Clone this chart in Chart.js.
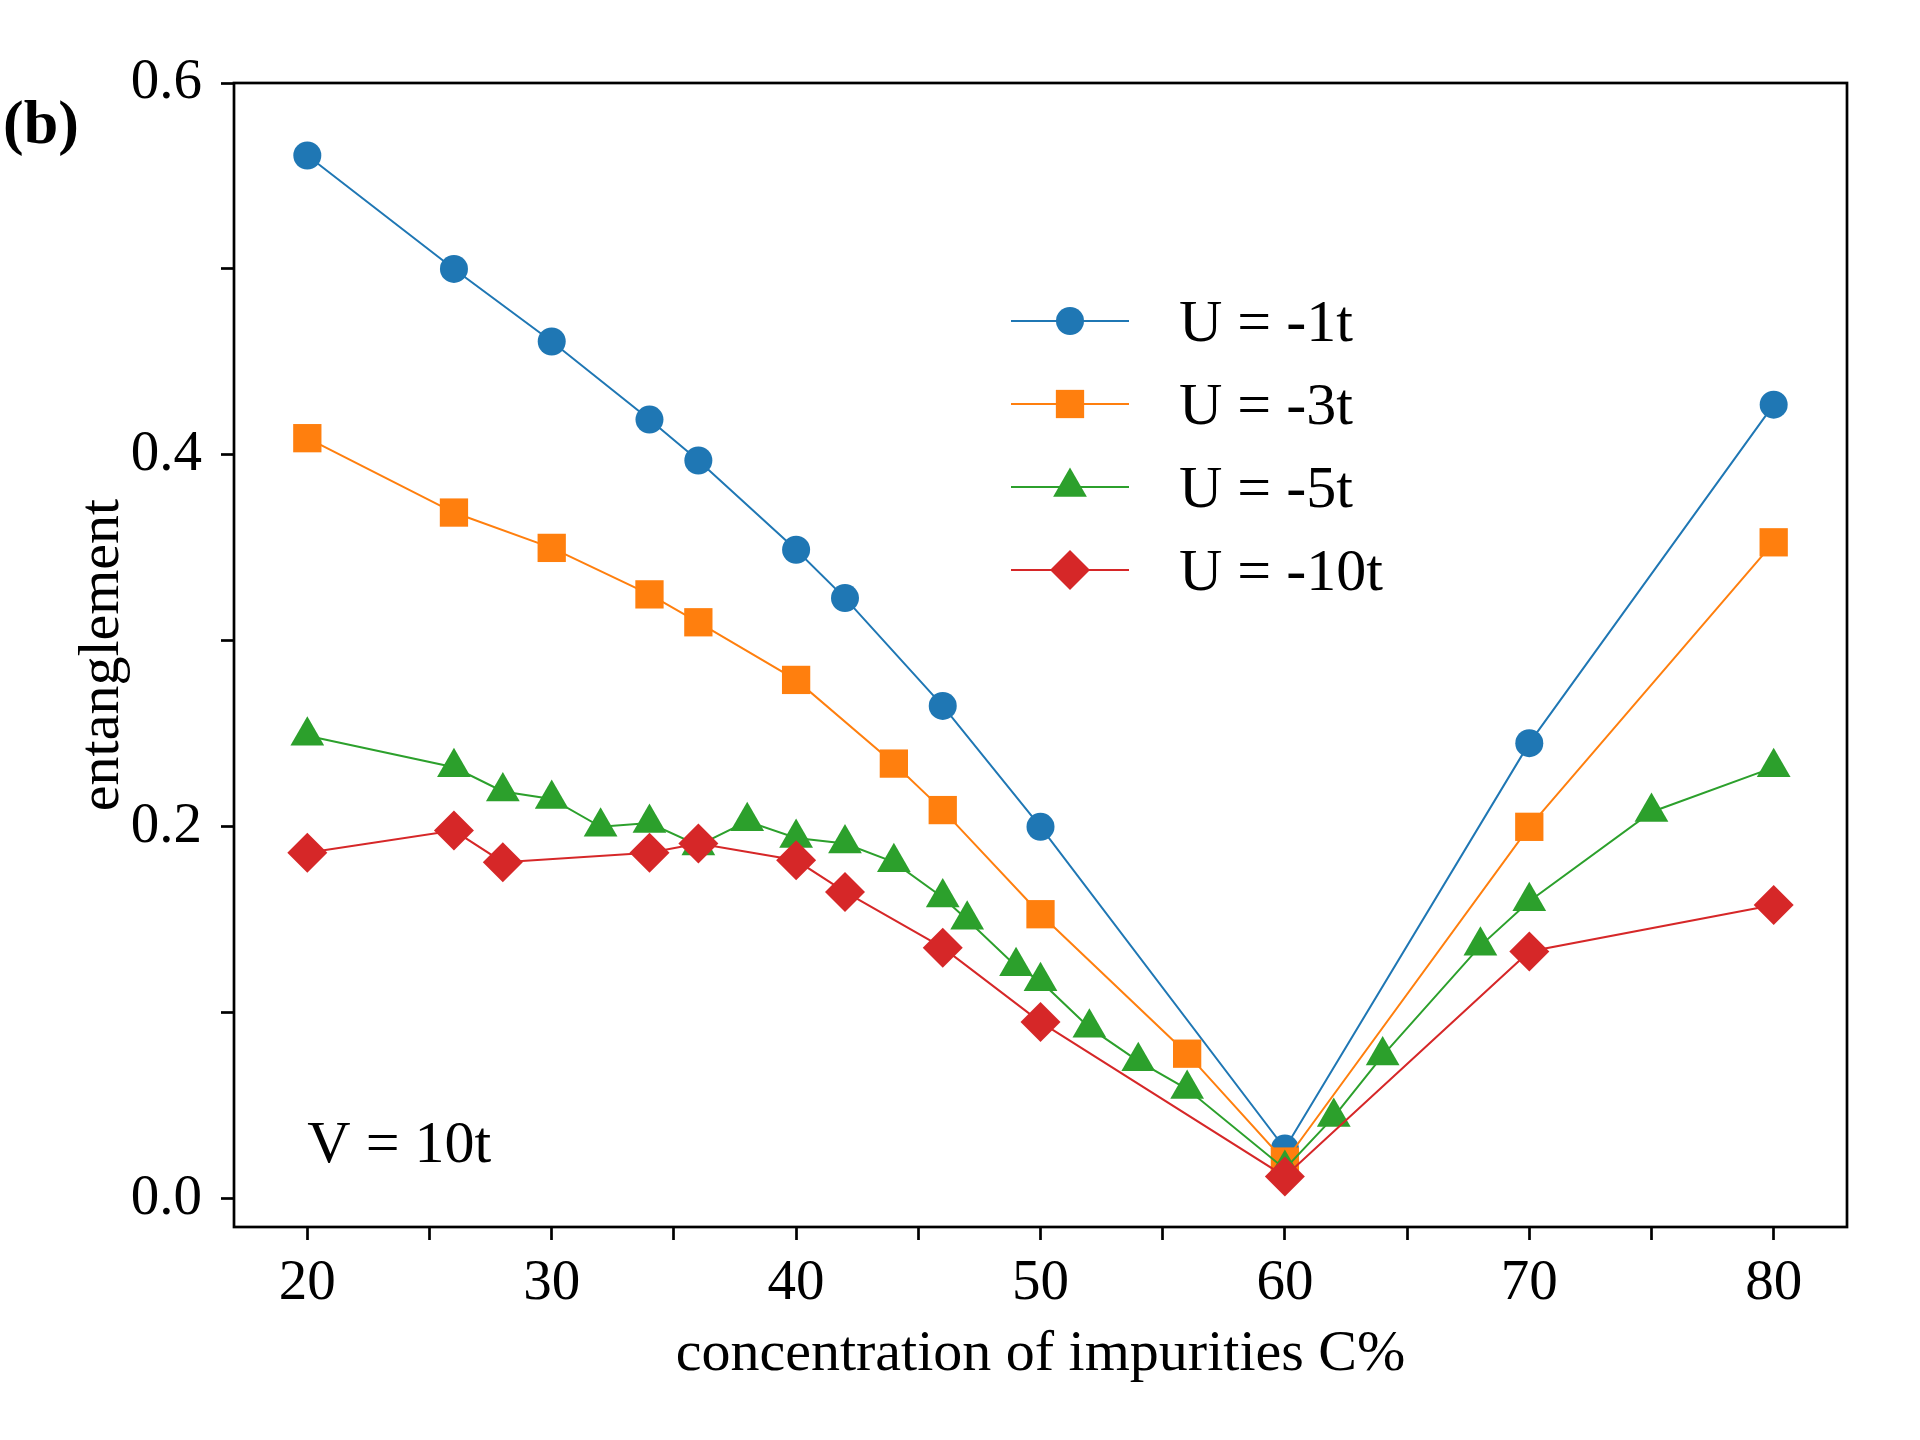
<!DOCTYPE html>
<html>
<head>
<meta charset="utf-8">
<script src="https://cdn.jsdelivr.net/npm/chart.js@4/dist/chart.umd.min.js"></script>
<style>
  html, body { margin: 0; padding: 0; background: #fff; }
  #wrap { width: 1920px; height: 1440px; }
</style>
</head>
<body>
<div id="wrap"><canvas id="chart" width="1920" height="1440"></canvas></div>
<script>
// data
const xU1 = [20, 26, 30, 34, 36, 40, 42, 46, 50, 60, 70, 80];
const yU1 = [0.561, 0.500, 0.461, 0.419, 0.397, 0.349, 0.323, 0.265, 0.200, 0.027, 0.245, 0.427];

const xU3 = [20, 26, 30, 34, 36, 40, 44, 46, 50, 56, 60, 70, 80];
const yU3 = [0.409, 0.369, 0.350, 0.325, 0.310, 0.279, 0.234, 0.209, 0.153, 0.078, 0.020, 0.200, 0.353];

const xU5 = [20, 26, 28, 30, 32, 34, 36, 38, 40, 42, 44, 46, 47, 49, 50, 52, 54, 56, 60, 62, 64, 68, 70, 75, 80];
const yU5 = [0.249, 0.232, 0.219, 0.215, 0.200, 0.202, 0.190, 0.203, 0.194, 0.191, 0.181, 0.162, 0.150, 0.125, 0.117, 0.092, 0.074, 0.059, 0.016, 0.044, 0.077, 0.136, 0.160, 0.208, 0.232];

const xU10 = [20, 26, 28, 34, 36, 40, 42, 46, 50, 60, 70, 80];
const yU10 = [0.186, 0.198, 0.181, 0.186, 0.191, 0.182, 0.165, 0.135, 0.095, 0.012, 0.133, 0.158];

const seriesLabels = ['U = -1t', 'U = -3t', 'U = -5t', 'U = -10t'];
const xTicks = [20, 25, 30, 35, 40, 45, 50, 55, 60, 65, 70, 75, 80];
const xTickLabels = {20: '20', 30: '30', 40: '40', 50: '50', 60: '60', 70: '70', 80: '80'};
const yTicks = [0.0, 0.1, 0.2, 0.3, 0.4, 0.5, 0.6];
const yTickLabels = {0: '0.0', 0.2: '0.2', 0.4: '0.4', 0.6: '0.6'};

const SERIF = "'Liberation Serif', 'DejaVu Serif', serif";
Chart.defaults.font.family = SERIF;
Chart.defaults.color = '#000';

function pts(xs, ys) {
    return xs.map((x, i) => ({x: x, y: ys[i]}));
}

function series(label, xs, ys, color, style, radius, order) {
    return {
        label: label,
        data: pts(xs, ys),
        borderColor: color,
        backgroundColor: color,
        borderWidth: 2,
        pointStyle: style,
        pointRadius: radius,
        pointHoverRadius: radius,
        pointBorderWidth: 0,
        pointBackgroundColor: color,
        order: order,
        tension: 0,
    };
}

const datasets = [
    series(seriesLabels[0], xU1, yU1, '#1f77b4', 'circle', 14, 4),
    series(seriesLabels[1], xU3, yU3, '#ff7f0e', 'rect', 20, 3),
    series(seriesLabels[2], xU5, yU5, '#2ca02c', 'triangle', 19.5, 2),
    series(seriesLabels[3], xU10, yU10, '#d62728', 'rectRot', 20, 1),
];

// frame, legend and the two text notes
const extras = {
    id: 'extras',
    afterDraw(chart) {
        const ctx = chart.ctx;
        const a = chart.chartArea;
        ctx.save();
        ctx.strokeStyle = '#000';
        ctx.lineWidth = 2.7;
        ctx.strokeRect(a.left, a.top, a.right - a.left, a.bottom - a.top);

        // legend
        const lx = 1011, ly = 321, dy = 83, len = 118;
        chart.data.datasets.forEach((ds, i) => {
            const y = ly + i * dy;
            ctx.strokeStyle = ds.borderColor;
            ctx.lineWidth = 2;
            ctx.beginPath();
            ctx.moveTo(lx, y);
            ctx.lineTo(lx + len, y);
            ctx.stroke();
            ctx.fillStyle = ds.borderColor;
            Chart.helpers.drawPoint(ctx, {
                pointStyle: ds.pointStyle, radius: ds.pointRadius, rotation: 0, borderWidth: 0
            }, lx + len / 2, y);
            ctx.fillStyle = '#000';
            ctx.font = '60px ' + SERIF;
            ctx.textAlign = 'left';
            ctx.textBaseline = 'alphabetic';
            ctx.fillText(ds.label, 1179, y + 20);
        });

        // V = 10t note, placed in data coordinates
        const xs = chart.scales.x, ys = chart.scales.y;
        ctx.fillStyle = '#000';
        ctx.font = '60px ' + SERIF;
        ctx.textAlign = 'left';
        ctx.textBaseline = 'alphabetic';
        ctx.fillText('V = 10t', xs.getPixelForValue(20), ys.getPixelForValue(0.02));

        // panel tag
        ctx.font = 'bold 62px ' + SERIF;
        ctx.fillText('(b)', 3, 143);
        ctx.restore();
    }
};

new Chart(document.getElementById('chart').getContext('2d'), {
    type: 'line',
    data: { datasets: datasets },
    options: {
        responsive: false,
        animation: false,
        devicePixelRatio: 1,
        layout: { padding: { left: 0, top: 83, right: 73, bottom: 0 } },
        plugins: { legend: { display: false }, tooltip: { enabled: false } },
        scales: {
            x: {
                type: 'linear',
                min: 17,
                max: 83,
                afterBuildTicks: (axis) => { axis.ticks = xTicks.map(v => ({value: v})); },
                afterFit: (scale) => { scale.height = 213; },
                grid: { drawOnChartArea: false, drawTicks: true, tickLength: 13, tickWidth: 2.7, color: '#000' },
                border: { display: false },
                ticks: {
                    autoSkip: false,
                    maxRotation: 0,
                    padding: 10,
                    color: '#000',
                    font: { size: 57 },
                    callback: (v) => xTickLabels[v] || '',
                },
                title: {
                    display: true,
                    text: 'concentration of impurities C%',
                    color: '#000',
                    font: { size: 58 },
                    padding: { top: 0, bottom: 50 },
                },
            },
            y: {
                type: 'linear',
                min: -0.0152,
                max: 0.6,
                afterBuildTicks: (axis) => { axis.ticks = yTicks.map(v => ({value: v})); },
                afterFit: (scale) => { scale.width = 234; },
                grid: { drawOnChartArea: false, drawTicks: true, tickLength: 13, tickWidth: 2.7, color: '#000' },
                border: { display: false },
                ticks: {
                    autoSkip: false,
                    padding: 19,
                    color: '#000',
                    font: { size: 57 },
                    callback: (v) => yTickLabels[Math.round(v * 10) / 10] || '',
                },
                title: {
                    display: true,
                    text: 'entanglement',
                    color: '#000',
                    font: { size: 58 },
                    padding: { top: 68, bottom: 0 },
                },
            },
        },
    },
    plugins: [extras],
});
</script>
</body>
</html>
